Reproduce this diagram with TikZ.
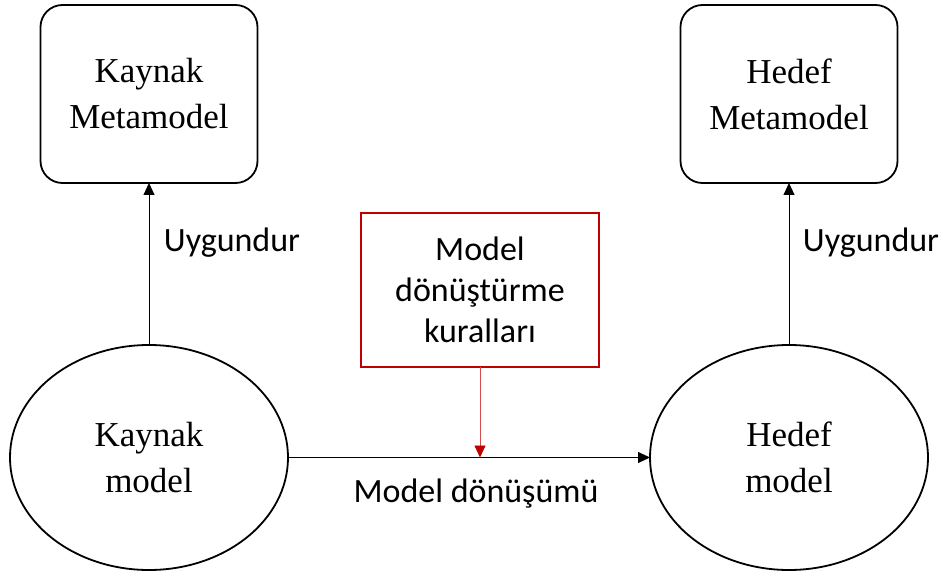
\documentclass[tikz,border=0pt]{standalone}
\usepackage{fontspec}
\setmainfont{Liberation Serif}
\newfontfamily\labelfont{Carlito}
\usetikzlibrary{shapes.geometric,arrows.meta}
\definecolor{rulered}{HTML}{C00000}
\tikzset{
  metabox/.style={draw, line width=1.8pt, rounded corners=22pt, minimum width=217pt,
    minimum height=178pt, inner sep=0pt, outer sep=0pt, align=center,
    font=\fontsize{35}{46}\selectfont},
  modelnode/.style={draw, ellipse, line width=1.8pt, minimum width=278pt,
    minimum height=225pt, inner sep=0pt, outer sep=0pt, align=center,
    font=\fontsize{35}{46}\selectfont},
  rulebox/.style={draw=rulered, line width=1.6pt, minimum width=238pt,
    minimum height=154pt, inner sep=0pt, outer sep=0pt, align=center,
    font=\labelfont\fontsize{34}{41}\selectfont},
  caption/.style={font=\labelfont\fontsize{34}{41}\selectfont, inner sep=0pt},
  link/.style={line width=0.9pt, -{Triangle[length=12pt,width=11pt]}},
  redlink/.style={draw=rulered!70, line width=0.9pt,
    -{Triangle[length=12pt,width=11pt,color=rulered]}}
}
\begin{document}
\begin{tikzpicture}[x=1pt,y=-1pt]
  \useasboundingbox (0,0) rectangle (948,577);

  % metamodels
  \node[metabox] (srcmeta) at (149,94) {Kaynak\\Metamodel};
  \node[metabox] (tgtmeta) at (789,94) {Hedef\\Metamodel};

  % models
  \node[modelnode] (srcmodel) at (149,457.5) {Kaynak\\model};
  \node[modelnode] (tgtmodel) at (789,457.5) {Hedef\\model};

  % transformation rules
  \node[rulebox] (rules) at (480,290) {Model\\dönüştürme\\kuralları};

  % conformance
  \draw[link] (srcmodel.north) -- (srcmeta.south);
  \draw[link] (tgtmodel.north) -- (tgtmeta.south);
  \node[caption] (srcconf) at (232,243) {Uygundur};
  \node[caption] (tgtconf) at (871,243) {Uygundur};

  % transformation
  \draw[link] (srcmodel.east) -- (tgtmodel.west);
  \coordinate (hit) at (rules.south |- srcmodel.east);
  \draw[redlink] (rules.south) -- (hit);
  \node[caption] (trans) at (476,494) {Model dönüşümü};
\end{tikzpicture}
\end{document}
